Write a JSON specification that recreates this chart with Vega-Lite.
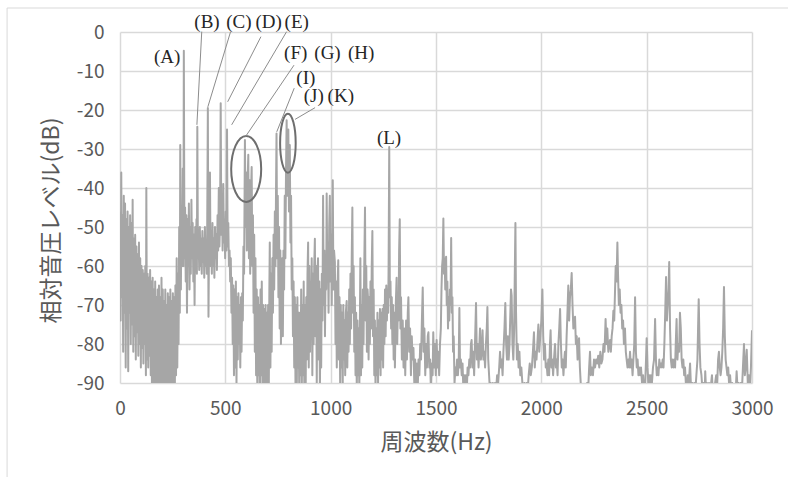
{
"$schema": "https://vega.github.io/schema/vega-lite/v6.json",
"width": 632, "height": 351,
"autosize": {"type": "none"},
"padding": {"left": 120, "top": 32, "right": 36, "bottom": 94},
"background": "white",
"config": {"view": {"stroke": null}, "axis": {"labelOverlap": false, "labelFlush": false}},
"datasets": {
"spec": [
{"f":0,"d":-46},{"f":3,"d":-74},{"f":6,"d":-36},{"f":9,"d":-68},{"f":12,"d":-47},{"f":15,"d":-82},{"f":18,"d":-42},{"f":21,"d":-72},{"f":24,"d":-44},{"f":27,"d":-86},{"f":30,"d":-48},{"f":33,"d":-76},{"f":36,"d":-46},{"f":39,"d":-87},{"f":42,"d":-50},{"f":45,"d":-72},{"f":48,"d":-47},{"f":51,"d":-80},{"f":54,"d":-49},{"f":57,"d":-75},{"f":60,"d":-43},{"f":63,"d":-82},{"f":66,"d":-53},{"f":69,"d":-78},{"f":72,"d":-52},{"f":75,"d":-84},{"f":78,"d":-55},{"f":81,"d":-77},{"f":84,"d":-57},{"f":87,"d":-83},{"f":90,"d":-54},{"f":93,"d":-80},{"f":96,"d":-58},{"f":99,"d":-86},{"f":102,"d":-60},{"f":105,"d":-81},{"f":108,"d":-61},{"f":111,"d":-85},{"f":114,"d":-62},{"f":117,"d":-80},{"f":120,"d":-60},{"f":123,"d":-88},{"f":125,"d":-40},{"f":128,"d":-84},{"f":131,"d":-62},{"f":134,"d":-86},{"f":137,"d":-63},{"f":140,"d":-83},{"f":143,"d":-61},{"f":146,"d":-88},{"f":149,"d":-64},{"f":152,"d":-94},{"f":155,"d":-63},{"f":158,"d":-90},{"f":161,"d":-66},{"f":164,"d":-95},{"f":167,"d":-64},{"f":170,"d":-92},{"f":173,"d":-68},{"f":176,"d":-96},{"f":179,"d":-66},{"f":182,"d":-91},{"f":185,"d":-65},{"f":188,"d":-95},{"f":191,"d":-68},{"f":194,"d":-92},{"f":197,"d":-63},{"f":200,"d":-96},{"f":203,"d":-66},{"f":206,"d":-90},{"f":209,"d":-69},{"f":212,"d":-95},{"f":215,"d":-66},{"f":218,"d":-92},{"f":221,"d":-70},{"f":224,"d":-96},{"f":227,"d":-67},{"f":230,"d":-90},{"f":233,"d":-68},{"f":236,"d":-95},{"f":239,"d":-66},{"f":242,"d":-91},{"f":245,"d":-69},{"f":248,"d":-96},{"f":251,"d":-67},{"f":254,"d":-92},{"f":257,"d":-68},{"f":260,"d":-95},{"f":263,"d":-65},{"f":266,"d":-88},{"f":269,"d":-58},{"f":272,"d":-86},{"f":275,"d":-62},{"f":278,"d":-80},{"f":281,"d":-50},{"f":284,"d":-72},{"f":286,"d":-29},{"f":289,"d":-66},{"f":292,"d":-45},{"f":295,"d":-60},{"f":298,"d":-35},{"f":301,"d":-60},{"f":303,"d":-4.8},{"f":306,"d":-58},{"f":309,"d":-45},{"f":312,"d":-64},{"f":315,"d":-47},{"f":318,"d":-72},{"f":321,"d":-48},{"f":324,"d":-60},{"f":327,"d":-44},{"f":330,"d":-66},{"f":333,"d":-50},{"f":336,"d":-62},{"f":339,"d":-43},{"f":342,"d":-58},{"f":345,"d":-49},{"f":348,"d":-64},{"f":351,"d":-52},{"f":354,"d":-70},{"f":357,"d":-50},{"f":360,"d":-60},{"f":363,"d":-48},{"f":365,"d":-62},{"f":367,"d":-24.3},{"f":370,"d":-58},{"f":373,"d":-52},{"f":376,"d":-61},{"f":379,"d":-50},{"f":382,"d":-60},{"f":385,"d":-53},{"f":388,"d":-62},{"f":391,"d":-51},{"f":394,"d":-59},{"f":397,"d":-53},{"f":400,"d":-63},{"f":403,"d":-50},{"f":406,"d":-60},{"f":409,"d":-54},{"f":412,"d":-62},{"f":414,"d":-50},{"f":417,"d":-19.5},{"f":420,"d":-73},{"f":423,"d":-52},{"f":427,"d":-36},{"f":430,"d":-60},{"f":433,"d":-51},{"f":436,"d":-62},{"f":439,"d":-49},{"f":442,"d":-60},{"f":445,"d":-53},{"f":448,"d":-63},{"f":451,"d":-50},{"f":454,"d":-58},{"f":457,"d":-52},{"f":460,"d":-61},{"f":463,"d":-47},{"f":466,"d":-56},{"f":469,"d":-40},{"f":472,"d":-55},{"f":475,"d":-48},{"f":478,"d":-18.3},{"f":481,"d":-52},{"f":484,"d":-42},{"f":487,"d":-56},{"f":490,"d":-39},{"f":493,"d":-54},{"f":496,"d":-48},{"f":499,"d":-58},{"f":502,"d":-46},{"f":505,"d":-56},{"f":508,"d":-25},{"f":511,"d":-55},{"f":514,"d":-49},{"f":517,"d":-60},{"f":520,"d":-56},{"f":523,"d":-64},{"f":526,"d":-58},{"f":529,"d":-72},{"f":532,"d":-63},{"f":535,"d":-80},{"f":538,"d":-65},{"f":541,"d":-88},{"f":544,"d":-66},{"f":547,"d":-86},{"f":550,"d":-64},{"f":553,"d":-90},{"f":556,"d":-68},{"f":559,"d":-84},{"f":562,"d":-67},{"f":565,"d":-80},{"f":568,"d":-70},{"f":571,"d":-86},{"f":574,"d":-68},{"f":577,"d":-82},{"f":580,"d":-67},{"f":583,"d":-74},{"f":586,"d":-55},{"f":589,"d":-62},{"f":591,"d":-45},{"f":593,"d":-27.7},{"f":596,"d":-50},{"f":599,"d":-36},{"f":602,"d":-56},{"f":605,"d":-40},{"f":609,"d":-31.5},{"f":612,"d":-58},{"f":615,"d":-38},{"f":618,"d":-62},{"f":621,"d":-43},{"f":625,"d":-34.6},{"f":628,"d":-60},{"f":631,"d":-47},{"f":634,"d":-72},{"f":637,"d":-52},{"f":640,"d":-82},{"f":643,"d":-58},{"f":646,"d":-88},{"f":649,"d":-66},{"f":652,"d":-93},{"f":655,"d":-68},{"f":658,"d":-88},{"f":661,"d":-70},{"f":664,"d":-95},{"f":667,"d":-66},{"f":670,"d":-88},{"f":673,"d":-64},{"f":676,"d":-90},{"f":679,"d":-70},{"f":682,"d":-95},{"f":685,"d":-71},{"f":688,"d":-90},{"f":691,"d":-70},{"f":694,"d":-96},{"f":697,"d":-72},{"f":700,"d":-90},{"f":703,"d":-70},{"f":706,"d":-95},{"f":709,"d":-66},{"f":711,"d":-54},{"f":714,"d":-86},{"f":717,"d":-62},{"f":720,"d":-82},{"f":723,"d":-58},{"f":726,"d":-72},{"f":729,"d":-52},{"f":732,"d":-66},{"f":735,"d":-46},{"f":738,"d":-60},{"f":741,"d":-38},{"f":743,"d":-26},{"f":746,"d":-58},{"f":749,"d":-42},{"f":752,"d":-68},{"f":755,"d":-50},{"f":758,"d":-76},{"f":761,"d":-56},{"f":764,"d":-80},{"f":767,"d":-62},{"f":770,"d":-58},{"f":773,"d":-78},{"f":776,"d":-56},{"f":779,"d":-66},{"f":782,"d":-42},{"f":785,"d":-58},{"f":788,"d":-36},{"f":791,"d":-22.6},{"f":794,"d":-42},{"f":797,"d":-30},{"f":799,"d":-25},{"f":802,"d":-46},{"f":806,"d":-29},{"f":809,"d":-54},{"f":812,"d":-42},{"f":815,"d":-66},{"f":818,"d":-58},{"f":821,"d":-78},{"f":824,"d":-64},{"f":827,"d":-86},{"f":830,"d":-68},{"f":833,"d":-90},{"f":836,"d":-70},{"f":839,"d":-94},{"f":842,"d":-68},{"f":845,"d":-86},{"f":848,"d":-72},{"f":851,"d":-94},{"f":854,"d":-72},{"f":857,"d":-88},{"f":860,"d":-66},{"f":863,"d":-92},{"f":866,"d":-70},{"f":869,"d":-88},{"f":872,"d":-64},{"f":875,"d":-92},{"f":878,"d":-70},{"f":881,"d":-95},{"f":884,"d":-68},{"f":887,"d":-84},{"f":890,"d":-62},{"f":893,"d":-54},{"f":896,"d":-86},{"f":899,"d":-60},{"f":902,"d":-82},{"f":905,"d":-64},{"f":908,"d":-76},{"f":910,"d":-58},{"f":913,"d":-88},{"f":916,"d":-62},{"f":919,"d":-80},{"f":922,"d":-60},{"f":925,"d":-53},{"f":928,"d":-78},{"f":931,"d":-60},{"f":934,"d":-90},{"f":937,"d":-62},{"f":940,"d":-58},{"f":943,"d":-84},{"f":946,"d":-64},{"f":949,"d":-92},{"f":952,"d":-66},{"f":955,"d":-86},{"f":958,"d":-62},{"f":961,"d":-74},{"f":964,"d":-42},{"f":967,"d":-70},{"f":970,"d":-56},{"f":973,"d":-78},{"f":976,"d":-60},{"f":979,"d":-66},{"f":981,"d":-41.4},{"f":984,"d":-62},{"f":987,"d":-54},{"f":990,"d":-72},{"f":993,"d":-50},{"f":996,"d":-42},{"f":999,"d":-64},{"f":1002,"d":-52},{"f":1005,"d":-70},{"f":1008,"d":-48},{"f":1010,"d":-38},{"f":1013,"d":-66},{"f":1016,"d":-56},{"f":1020,"d":-59},{"f":1023,"d":-80},{"f":1026,"d":-64},{"f":1029,"d":-86},{"f":1032,"d":-66},{"f":1036,"d":-58.5},{"f":1039,"d":-84},{"f":1042,"d":-68},{"f":1045,"d":-90},{"f":1048,"d":-70},{"f":1051,"d":-86},{"f":1054,"d":-72},{"f":1057,"d":-92},{"f":1060,"d":-70},{"f":1063,"d":-84},{"f":1066,"d":-74},{"f":1069,"d":-88},{"f":1072,"d":-72},{"f":1076,"d":-69},{"f":1079,"d":-86},{"f":1082,"d":-72},{"f":1085,"d":-82},{"f":1088,"d":-66},{"f":1091,"d":-80},{"f":1094,"d":-62},{"f":1097,"d":-76},{"f":1100,"d":-58},{"f":1103,"d":-45},{"f":1106,"d":-72},{"f":1109,"d":-60},{"f":1112,"d":-82},{"f":1115,"d":-68},{"f":1118,"d":-88},{"f":1121,"d":-72},{"f":1124,"d":-92},{"f":1127,"d":-74},{"f":1130,"d":-88},{"f":1133,"d":-76},{"f":1136,"d":-92},{"f":1139,"d":-72},{"f":1141,"d":-58},{"f":1144,"d":-88},{"f":1147,"d":-70},{"f":1150,"d":-86},{"f":1153,"d":-66},{"f":1156,"d":-80},{"f":1159,"d":-62},{"f":1163,"d":-45},{"f":1166,"d":-74},{"f":1169,"d":-60},{"f":1172,"d":-82},{"f":1175,"d":-66},{"f":1177,"d":-68},{"f":1180,"d":-84},{"f":1183,"d":-68},{"f":1186,"d":-80},{"f":1189,"d":-64},{"f":1192,"d":-76},{"f":1195,"d":-60},{"f":1198,"d":-51},{"f":1201,"d":-78},{"f":1204,"d":-66},{"f":1207,"d":-88},{"f":1210,"d":-74},{"f":1213,"d":-92},{"f":1216,"d":-76},{"f":1219,"d":-88},{"f":1222,"d":-72},{"f":1225,"d":-90},{"f":1228,"d":-74},{"f":1231,"d":-86},{"f":1234,"d":-71},{"f":1237,"d":-88},{"f":1240,"d":-72},{"f":1243,"d":-84},{"f":1246,"d":-71},{"f":1249,"d":-86},{"f":1252,"d":-70},{"f":1255,"d":-80},{"f":1258,"d":-66},{"f":1261,"d":-78},{"f":1264,"d":-65},{"f":1267,"d":-74},{"f":1270,"d":-66},{"f":1273,"d":-72},{"f":1275,"d":-60},{"f":1278,"d":-29.5},{"f":1281,"d":-68},{"f":1284,"d":-64},{"f":1287,"d":-76},{"f":1290,"d":-68},{"f":1293,"d":-80},{"f":1296,"d":-70},{"f":1299,"d":-84},{"f":1302,"d":-72},{"f":1305,"d":-86},{"f":1309,"d":-70},{"f":1313,"d":-63},{"f":1316,"d":-80},{"f":1319,"d":-70},{"f":1322,"d":-74},{"f":1325,"d":-56},{"f":1328,"d":-48},{"f":1331,"d":-76},{"f":1334,"d":-68},{"f":1338,"d":-84},{"f":1342,"d":-74},{"f":1346,"d":-86},{"f":1350,"d":-76},{"f":1354,"d":-88},{"f":1358,"d":-74},{"f":1362,"d":-84},{"f":1366,"d":-72},{"f":1369,"d":-68},{"f":1373,"d":-82},{"f":1377,"d":-76},{"f":1381,"d":-88},{"f":1385,"d":-78},{"f":1389,"d":-84},{"f":1393,"d":-81},{"f":1397,"d":-90},{"f":1401,"d":-84},{"f":1405,"d":-94},{"f":1409,"d":-85},{"f":1413,"d":-92},{"f":1417,"d":-84},{"f":1421,"d":-88},{"f":1425,"d":-80},{"f":1429,"d":-84},{"f":1433,"d":-74},{"f":1437,"d":-65.5},{"f":1441,"d":-82},{"f":1445,"d":-76},{"f":1449,"d":-88},{"f":1453,"d":-80},{"f":1457,"d":-86},{"f":1461,"d":-78},{"f":1464,"d":-77},{"f":1468,"d":-86},{"f":1472,"d":-84},{"f":1476,"d":-92},{"f":1480,"d":-85},{"f":1484,"d":-88},{"f":1487,"d":-77},{"f":1491,"d":-86},{"f":1495,"d":-80},{"f":1499,"d":-88},{"f":1503,"d":-79},{"f":1507,"d":-86},{"f":1511,"d":-82},{"f":1515,"d":-88},{"f":1519,"d":-80},{"f":1523,"d":-76},{"f":1526,"d":-66},{"f":1529,"d":-60},{"f":1532,"d":-58},{"f":1535,"d":-47.8},{"f":1538,"d":-62},{"f":1541,"d":-58},{"f":1544,"d":-66},{"f":1548,"d":-57.6},{"f":1551,"d":-70},{"f":1554,"d":-64},{"f":1557,"d":-76},{"f":1560,"d":-68},{"f":1563,"d":-74},{"f":1566,"d":-66},{"f":1569,"d":-70},{"f":1572,"d":-52.8},{"f":1575,"d":-72},{"f":1578,"d":-68},{"f":1581,"d":-82},{"f":1584,"d":-78},{"f":1588,"d":-90},{"f":1592,"d":-86},{"f":1596,"d":-88},{"f":1600,"d":-84},{"f":1604,"d":-88},{"f":1608,"d":-84},{"f":1611,"d":-70.8},{"f":1614,"d":-86},{"f":1618,"d":-84},{"f":1622,"d":-88},{"f":1626,"d":-85},{"f":1630,"d":-92},{"f":1634,"d":-88},{"f":1638,"d":-94},{"f":1642,"d":-88},{"f":1646,"d":-92},{"f":1650,"d":-86},{"f":1654,"d":-88},{"f":1658,"d":-84},{"f":1662,"d":-86},{"f":1666,"d":-80},{"f":1669,"d":-79},{"f":1673,"d":-86},{"f":1677,"d":-82},{"f":1681,"d":-88},{"f":1685,"d":-80},{"f":1690,"d":-69.5},{"f":1694,"d":-84},{"f":1698,"d":-80},{"f":1702,"d":-86},{"f":1706,"d":-80},{"f":1709,"d":-76},{"f":1713,"d":-84},{"f":1717,"d":-82},{"f":1721,"d":-76.5},{"f":1725,"d":-84},{"f":1729,"d":-82},{"f":1733,"d":-86},{"f":1737,"d":-80},{"f":1741,"d":-76},{"f":1744,"d":-70.5},{"f":1748,"d":-84},{"f":1752,"d":-88},{"f":1756,"d":-92},{"f":1760,"d":-90},{"f":1765,"d":-95},{"f":1770,"d":-90},{"f":1775,"d":-94},{"f":1780,"d":-90},{"f":1785,"d":-92},{"f":1790,"d":-88},{"f":1795,"d":-90},{"f":1800,"d":-86},{"f":1804,"d":-82},{"f":1808,"d":-86},{"f":1812,"d":-84},{"f":1816,"d":-88},{"f":1820,"d":-82},{"f":1825,"d":-76},{"f":1829,"d":-69.5},{"f":1833,"d":-80},{"f":1837,"d":-84},{"f":1841,"d":-78},{"f":1845,"d":-84},{"f":1849,"d":-80},{"f":1853,"d":-72},{"f":1856,"d":-66},{"f":1859,"d":-67.5},{"f":1863,"d":-80},{"f":1867,"d":-84},{"f":1871,"d":-76},{"f":1874,"d":-62},{"f":1877,"d":-49},{"f":1880,"d":-72},{"f":1884,"d":-84},{"f":1888,"d":-80},{"f":1892,"d":-86},{"f":1896,"d":-82},{"f":1900,"d":-88},{"f":1905,"d":-86},{"f":1910,"d":-90},{"f":1915,"d":-92},{"f":1920,"d":-90},{"f":1925,"d":-95},{"f":1930,"d":-90},{"f":1935,"d":-92},{"f":1940,"d":-88},{"f":1945,"d":-85},{"f":1950,"d":-88},{"f":1955,"d":-86},{"f":1960,"d":-82},{"f":1965,"d":-77},{"f":1969,"d":-86},{"f":1973,"d":-82},{"f":1977,"d":-84},{"f":1981,"d":-80},{"f":1986,"d":-75},{"f":1990,"d":-82},{"f":1995,"d":-78},{"f":2000,"d":-74},{"f":2005,"d":-66},{"f":2009,"d":-78},{"f":2013,"d":-84},{"f":2017,"d":-80},{"f":2021,"d":-86},{"f":2025,"d":-85},{"f":2029,"d":-88},{"f":2033,"d":-84},{"f":2037,"d":-88},{"f":2041,"d":-80},{"f":2044,"d":-76.5},{"f":2048,"d":-86},{"f":2052,"d":-84},{"f":2056,"d":-88},{"f":2060,"d":-84},{"f":2065,"d":-80},{"f":2069,"d":-86},{"f":2073,"d":-84},{"f":2077,"d":-88},{"f":2081,"d":-80},{"f":2085,"d":-76},{"f":2089,"d":-71},{"f":2093,"d":-80},{"f":2097,"d":-86},{"f":2101,"d":-84},{"f":2105,"d":-88},{"f":2109,"d":-84},{"f":2112,"d":-82},{"f":2116,"d":-86},{"f":2120,"d":-78},{"f":2124,"d":-72},{"f":2128,"d":-65},{"f":2132,"d":-74},{"f":2136,"d":-68},{"f":2140,"d":-66},{"f":2144,"d":-61.8},{"f":2148,"d":-70},{"f":2152,"d":-76},{"f":2156,"d":-74},{"f":2160,"d":-73},{"f":2164,"d":-80},{"f":2168,"d":-78},{"f":2172,"d":-84},{"f":2176,"d":-80},{"f":2179,"d":-78.5},{"f":2183,"d":-86},{"f":2187,"d":-90},{"f":2192,"d":-94},{"f":2197,"d":-92},{"f":2202,"d":-96},{"f":2207,"d":-92},{"f":2212,"d":-95},{"f":2217,"d":-90},{"f":2222,"d":-92},{"f":2227,"d":-86},{"f":2231,"d":-82},{"f":2235,"d":-88},{"f":2240,"d":-86},{"f":2245,"d":-88},{"f":2250,"d":-84},{"f":2255,"d":-86},{"f":2260,"d":-84},{"f":2265,"d":-85},{"f":2270,"d":-83},{"f":2275,"d":-86},{"f":2280,"d":-82},{"f":2285,"d":-85},{"f":2290,"d":-84},{"f":2295,"d":-80},{"f":2300,"d":-82},{"f":2305,"d":-73.6},{"f":2309,"d":-80},{"f":2313,"d":-76},{"f":2318,"d":-82},{"f":2322,"d":-80},{"f":2326,"d":-79},{"f":2330,"d":-82},{"f":2334,"d":-78},{"f":2338,"d":-76},{"f":2342,"d":-71.5},{"f":2346,"d":-74},{"f":2350,"d":-66},{"f":2353,"d":-60},{"f":2357,"d":-64},{"f":2361,"d":-54},{"f":2364,"d":-62},{"f":2368,"d":-70},{"f":2372,"d":-66},{"f":2376,"d":-72},{"f":2380,"d":-70},{"f":2384,"d":-76},{"f":2388,"d":-74},{"f":2392,"d":-80},{"f":2397,"d":-76},{"f":2401,"d":-82},{"f":2405,"d":-84},{"f":2409,"d":-86},{"f":2413,"d":-84},{"f":2417,"d":-86},{"f":2421,"d":-82},{"f":2425,"d":-86},{"f":2429,"d":-84},{"f":2433,"d":-88},{"f":2437,"d":-84},{"f":2441,"d":-80},{"f":2445,"d":-68},{"f":2449,"d":-82},{"f":2453,"d":-86},{"f":2457,"d":-84},{"f":2461,"d":-88},{"f":2465,"d":-86},{"f":2469,"d":-88},{"f":2473,"d":-86},{"f":2478,"d":-90},{"f":2483,"d":-88},{"f":2488,"d":-94},{"f":2493,"d":-90},{"f":2497,"d":-84},{"f":2500,"d":-78.5},{"f":2504,"d":-86},{"f":2508,"d":-90},{"f":2512,"d":-88},{"f":2516,"d":-92},{"f":2520,"d":-88},{"f":2525,"d":-90},{"f":2530,"d":-86},{"f":2535,"d":-84},{"f":2540,"d":-73.6},{"f":2544,"d":-84},{"f":2548,"d":-88},{"f":2552,"d":-86},{"f":2556,"d":-88},{"f":2560,"d":-84},{"f":2564,"d":-86},{"f":2568,"d":-85},{"f":2572,"d":-86},{"f":2576,"d":-84},{"f":2580,"d":-86},{"f":2584,"d":-80},{"f":2588,"d":-72},{"f":2592,"d":-62.8},{"f":2596,"d":-74},{"f":2600,"d":-70},{"f":2604,"d":-66},{"f":2607,"d":-59},{"f":2611,"d":-76},{"f":2615,"d":-84},{"f":2619,"d":-86},{"f":2623,"d":-84},{"f":2627,"d":-86},{"f":2631,"d":-84},{"f":2635,"d":-86},{"f":2638,"d":-80},{"f":2642,"d":-73.6},{"f":2646,"d":-84},{"f":2650,"d":-80},{"f":2654,"d":-82},{"f":2658,"d":-72},{"f":2662,"d":-76},{"f":2666,"d":-84},{"f":2670,"d":-86},{"f":2674,"d":-84},{"f":2678,"d":-88},{"f":2682,"d":-86},{"f":2686,"d":-90},{"f":2690,"d":-92},{"f":2695,"d":-88},{"f":2700,"d":-90},{"f":2706,"d":-85},{"f":2711,"d":-92},{"f":2716,"d":-90},{"f":2721,"d":-94},{"f":2726,"d":-90},{"f":2731,"d":-92},{"f":2736,"d":-88},{"f":2741,"d":-84},{"f":2744,"d":-76},{"f":2747,"d":-68.5},{"f":2751,"d":-80},{"f":2755,"d":-86},{"f":2760,"d":-88},{"f":2765,"d":-92},{"f":2770,"d":-90},{"f":2775,"d":-94},{"f":2778,"d":-87},{"f":2782,"d":-92},{"f":2786,"d":-90},{"f":2791,"d":-96},{"f":2796,"d":-90},{"f":2801,"d":-94},{"f":2806,"d":-90},{"f":2810,"d":-88},{"f":2815,"d":-94},{"f":2820,"d":-92},{"f":2825,"d":-90},{"f":2830,"d":-88},{"f":2835,"d":-90},{"f":2839,"d":-84},{"f":2843,"d":-82},{"f":2847,"d":-86},{"f":2851,"d":-88},{"f":2855,"d":-86},{"f":2859,"d":-82},{"f":2863,"d":-76},{"f":2867,"d":-65.4},{"f":2871,"d":-78},{"f":2875,"d":-84},{"f":2879,"d":-86},{"f":2883,"d":-88},{"f":2887,"d":-86},{"f":2891,"d":-90},{"f":2896,"d":-88},{"f":2901,"d":-92},{"f":2906,"d":-90},{"f":2911,"d":-95},{"f":2916,"d":-92},{"f":2921,"d":-94},{"f":2927,"d":-87},{"f":2932,"d":-92},{"f":2937,"d":-90},{"f":2942,"d":-94},{"f":2947,"d":-90},{"f":2952,"d":-92},{"f":2957,"d":-86},{"f":2962,"d":-80},{"f":2966,"d":-88},{"f":2970,"d":-86},{"f":2975,"d":-81.5},{"f":2980,"d":-90},{"f":2985,"d":-88},{"f":2990,"d":-92},{"f":2995,"d":-86},{"f":3000,"d":-76.5}
],
"labels": [
{"f":224,"d":-6.3,"t":"(A)"},{"f":413,"d":2.6,"t":"(B)"},{"f":564,"d":2.6,"t":"(C)"},{"f":706,"d":2.6,"t":"(D)"},{"f":839,"d":2.6,"t":"(E)"},
{"f":834,"d":-5.3,"t":"(F)"},{"f":985,"d":-5.3,"t":"(G)"},{"f":1145,"d":-5.3,"t":"(H)"},{"f":882,"d":-11.7,"t":"(I)"},
{"f":920,"d":-16.5,"t":"(J)"},{"f":1048,"d":-16.5,"t":"(K)"},{"f":1277,"d":-27.1,"t":"(L)"}
],
"leaders": [
{"f":388,"d":0.1,"f2":365,"d2":-23.8},{"f":525,"d":0.1,"f2":417,"d2":-19.2},{"f":669,"d":-1.2,"f2":511,"d2":-17.9},{"f":791,"d":0.1,"f2":530,"d2":-23.8},
{"f":826,"d":-8.5,"f2":596,"d2":-26.8},{"f":827,"d":-14.4,"f2":744,"d2":-25.6},{"f":926,"d":-19.4,"f2":831,"d2":-22.4}
],
"ell1": [{"f":599,"d":-35.1}],
"ell2": [{"f":797,"d":-28.5}]
},
"layer": [
{"data": {"name": "spec"},
 "mark": {"type": "line", "color": "#a6a6a6", "strokeWidth": 2, "clip": true, "strokeJoin": "round"},
 "encoding": {
  "x": {"field": "f", "type": "quantitative", "scale": {"domain": [0, 3000], "nice": false, "zero": false},
   "axis": {"title": "周波数(Hz)", "values": [0,500,1000,1500,2000,2500,3000], "labelExpr": "''+datum.value", "labelOverlap": false, "labelFlush": false, "labelBound": false, "grid": true, "gridColor": "#d9d9d9", "gridWidth": 1.5, "domain": false, "ticks": false, "labelFont": "Noto Sans CJK JP", "labelFontSize": 19, "labelColor": "#595959", "labelPadding": 16, "titleFont": "Noto Sans CJK JP", "titleFontSize": 23, "titleFontWeight": "normal", "titleColor": "#595959", "titleX": 316, "titleY": 59, "titleBaseline": "middle"}},
  "y": {"field": "d", "type": "quantitative", "scale": {"domain": [-90, 0], "nice": false, "zero": false},
   "axis": {"title": "相対音圧レベル(dB)", "tickCount": 10, "labelExpr": "replace(datum.label, '−', '-')", "labelOverlap": false, "labelFlush": false, "labelBound": false, "grid": true, "gridColor": "#d9d9d9", "gridWidth": 1.5, "domain": false, "ticks": false, "labelFont": "Noto Sans CJK JP", "labelFontSize": 19, "labelColor": "#595959", "labelPadding": 16, "titleFont": "Noto Sans CJK JP", "titleFontSize": 23, "titleFontWeight": "normal", "titleColor": "#595959", "titleX": -69, "titleY": 188, "titleBaseline": "middle", "titleAngle": -90}}
 }},
{"data": {"values": [{}]},
 "mark": {"type": "rect", "fill": "transparent", "stroke": "#d9d9d9", "strokeWidth": 1, "clip": false},
 "encoding": {"x": {"datum": -536, "type": "quantitative"}, "x2": {"datum": 3300}, "y": {"datum": 6.15, "type": "quantitative"}, "y2": {"datum": -130}}},
{"data": {"name": "ell1"},
 "mark": {"type": "point", "shape": "M 0 -1 A 0.4545 1 0 1 1 0 1 A 0.4545 1 0 1 1 0 -1 Z", "size": 4356, "filled": false, "stroke": "#6e6e6e", "strokeWidth": 2, "opacity": 1, "clip": false},
 "encoding": {"x": {"field": "f", "type": "quantitative"}, "y": {"field": "d", "type": "quantitative"}}},
{"data": {"name": "ell2"},
 "mark": {"type": "point", "shape": "M 0 -1 A 0.264 1 0 1 1 0 1 A 0.264 1 0 1 1 0 -1 Z", "size": 3481, "filled": false, "stroke": "#6e6e6e", "strokeWidth": 2, "opacity": 1, "clip": false},
 "encoding": {"x": {"field": "f", "type": "quantitative"}, "y": {"field": "d", "type": "quantitative"}}},
{"data": {"name": "leaders"},
 "mark": {"type": "rule", "color": "#8c8c8c", "strokeWidth": 1, "clip": false},
 "encoding": {"x": {"field": "f", "type": "quantitative"}, "y": {"field": "d", "type": "quantitative"}, "x2": {"field": "f2"}, "y2": {"field": "d2"}}},
{"data": {"name": "labels"},
 "mark": {"type": "text", "font": "Liberation Serif", "fontSize": 19, "color": "#262626", "align": "center", "baseline": "middle", "clip": false},
 "encoding": {"x": {"field": "f", "type": "quantitative"}, "y": {"field": "d", "type": "quantitative"}, "text": {"field": "t", "type": "nominal"}}}
]
}
